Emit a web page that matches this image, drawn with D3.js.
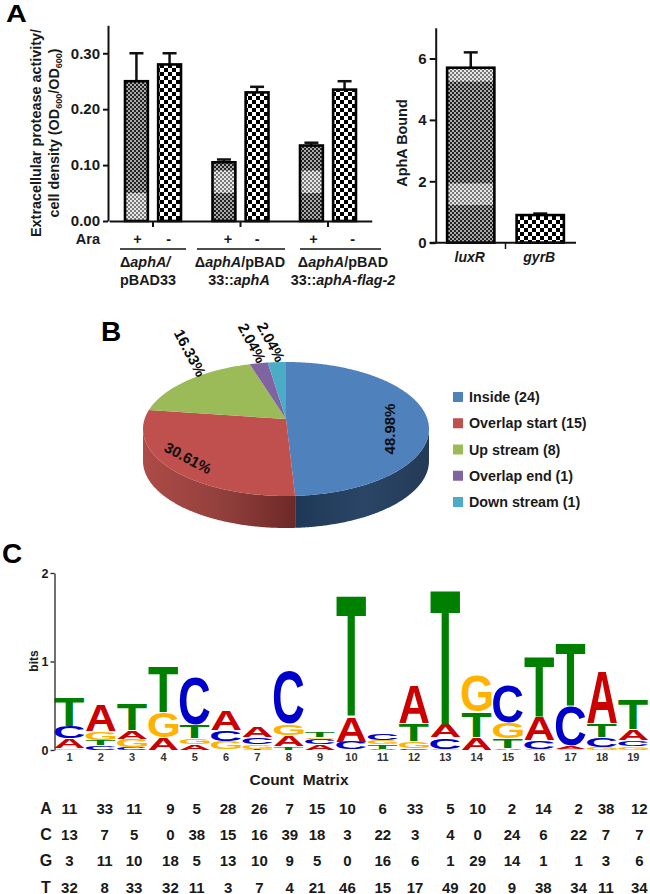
<!DOCTYPE html>
<html><head><meta charset="utf-8">
<script src="https://cdn.jsdelivr.net/npm/d3@7"></script>
<style>
html,body{margin:0;padding:0;background:#fff}
svg{display:block}
text{font-family:"Liberation Sans",Arial,sans-serif;font-weight:bold;fill:#1a1a1a}
</style></head><body>
<svg id="c" width="650" height="894"></svg>
<script>
// ---------- Data ----------
const groupNames = ["g1","g2","g3"];
const araStates = ["+","-"];
const proteaseMeans = [[0.25,0.28],[0.105,0.23],[0.135,0.235]];
const proteaseTops = [[0.30,0.30],[0.11,0.24],[0.14,0.25]];
const proteaseLightBands = [[[0,0.05],null],[[0.05,0.09],null],[[0.05,0.09],null]];
const proteaseTicks = [0,0.1,0.2,0.3];
const boundNames = ["luxR","gyrB"];
const boundMeans = [5.7,0.9];
const boundTops = [6.2,0.95];
const boundLightBands = [[[1.23,1.93],[5.25,5.7]],[]];
const boundTicks = [0,2,4,6];
const pieNames = ["Inside (24)","Overlap start (15)","Up stream (8)","Overlap end (1)","Down stream (1)"];
const pieValues = [24,15,8,1,1];
const pieLabels = ["48.98%","30.61%","16.33%","2.04%","2.04%"];
const pieColors = ["#4f81bd","#c0504d","#9bbb59","#8064a2","#4bacc6"];
const logoPositions = d3.range(1,20);
const logoColumns = [
 [["G",.02],["A",.11],["C",.14],["T",.33]],
 [["C",.05],["T",.06],["G",.1],["A",.3]],
 [["C",.03],["G",.09],["A",.1],["T",.3]],
 [["A",.14],["G",.29],["T",.52]],
 [["A",.06],["G",.07],["T",.15],["C",.55]],
 [["G",.1],["C",.12],["A",.23]],
 [["T",.01],["G",.05],["C",.08],["A",.12]],
 [["T",.04],["A",.12],["G",.13],["C",.61]],
 [["A",.06],["C",.06],["G",.02],["T",.07]],
 [["C",.09],["A",.29],["T",1.38]],
 [["A",.01],["T",.05],["G",.05],["C",.08]],
 [["C",.02],["G",.08],["T",.2],["A",.43]],
 [["G",.01],["C",.13],["A",.15],["T",1.53]],
 [["A",.14],["T",.29],["G",.41]],
 [["A",.02],["T",.11],["G",.18],["C",.43]],
 [["G",.01],["C",.1],["A",.27],["T",.69]],
 [["G",.01],["A",.03],["C",.46],["T",.71]],
 [["G",.03],["C",.11],["T",.16],["A",.6]],
 [["G",.04],["C",.07],["A",.12],["T",.34]]
];
const matrixRows = ["A","C","G","T"];
const matrixA = [11,33,11,9,5,28,26,7,15,10,6,33,5,10,2,14,2,38,12];
const matrixC = [13,7,5,0,38,15,16,39,18,3,22,3,4,0,24,6,22,7,7];
const matrixG = [3,11,10,18,5,13,10,9,5,0,16,6,1,29,14,1,1,3,6];
const matrixT = [32,8,33,32,11,3,7,4,21,46,15,17,49,20,9,38,34,11,34];

// ---------- Setup ----------
const svg = d3.select("#c");
const defs = svg.append("defs");
function checker(id,cell,dark,light){
  const p=defs.append("pattern").attr("id",id).attr("patternUnits","userSpaceOnUse")
    .attr("width",cell*2).attr("height",cell*2);
  p.append("rect").attr("width",cell*2).attr("height",cell*2).attr("fill",light);
  p.append("rect").attr("width",cell).attr("height",cell).attr("fill",dark);
  p.append("rect").attr("x",cell).attr("y",cell).attr("width",cell).attr("height",cell).attr("fill",dark);
}
checker("fine",2,"#222","#aaaaaa");
checker("fineLight",2,"#777","#e8e8e8");
checker("coarse",4,"#000","#fff");

function styleAxis(g,w){
  g.selectAll("path,line").attr("stroke","#111").attr("stroke-width",w);
  g.selectAll("text").style("font-size","14px");
}
function panelLetter(t,x,y,s,sx){
  svg.append("text").attr("transform",`translate(${x},${y}) scale(${sx},1)`).text(t).style("font-size",s+"px").style("fill","#000");
}
panelLetter("A",6,22,24,1.2);
panelLetter("B",101,341,28,1);
panelLetter("C",2,563,28,1);

// ---------- Panel A, left ----------
const yA = d3.scaleLinear().domain([0,0.35]).range([221,25.3]);
const x0 = d3.scaleBand().domain(groupNames).range([109.25,371.75]);
const xS = d3.scaleBand().domain(araStates).range([-28,28]).paddingInner(0.31);
const gA = svg.append("g");

function drawBar(g,x,w,yScale,mean,top,bands,pat){
  const yb=yScale(0), ym=yScale(mean), yt=yScale(top), cx=x+w/2;
  g.append("line").attr("x1",cx).attr("x2",cx).attr("y1",yt).attr("y2",ym).attr("stroke","#111").attr("stroke-width",2.5);
  g.append("line").attr("x1",cx-7).attr("x2",cx+7).attr("y1",yt).attr("y2",yt).attr("stroke","#111").attr("stroke-width",2.5);
  g.append("rect").attr("x",x).attr("y",ym).attr("width",w).attr("height",yb-ym).attr("fill",`url(#${pat})`);
  (bands||[]).forEach(b=>{
    g.append("rect").attr("x",x).attr("y",yScale(b[1])).attr("width",w)
      .attr("height",yScale(b[0])-yScale(b[1])).attr("fill","url(#fineLight)");
  });
  g.append("rect").attr("x",x).attr("y",ym).attr("width",w).attr("height",yb-ym)
    .attr("fill","none").attr("stroke","#000").attr("stroke-width",2.6);
}
groupNames.forEach((gn,i)=>araStates.forEach((s,j)=>{
  const band=proteaseLightBands[i][j];
  drawBar(gA,x0(gn)+x0.bandwidth()/2+xS(s),xS.bandwidth(),yA,proteaseMeans[i][j],proteaseTops[i][j],band?[band]:[],j==0?"fine":"coarse");
}));
const ayA=gA.append("g").attr("transform","translate(108,0)")
  .call(d3.axisLeft(yA).tickValues(proteaseTicks).tickSize(5).tickSizeOuter(0).tickFormat(d3.format(".2f")).tickPadding(3));
styleAxis(ayA,2);
ayA.selectAll("text").style("font-size","15px");
const axA=gA.append("g").attr("transform","translate(0,221)")
  .call(d3.axisBottom(x0).tickSize(6).tickSizeOuter(0).tickFormat(""));
styleAxis(axA,2);

gA.append("text").attr("x",100).attr("y",244).attr("text-anchor","end").text("Ara").style("font-size","14.5px");
const araLabelShift=[[1,-1],[4,0],[2,8]];
groupNames.forEach((gn,i)=>araStates.forEach((s,j)=>{
  gA.append("text").attr("x",x0(gn)+x0.bandwidth()/2+xS(s)+xS.bandwidth()/2+araLabelShift[i][j]).attr("y",244)
    .attr("text-anchor","middle").text(s).style("font-size","14.5px");
}));
[[120,186],[197,285],[300,381]].forEach(d=>{
  gA.append("line").attr("x1",d[0]).attr("x2",d[1]).attr("y1",249).attr("y2",249).attr("stroke","#111").attr("stroke-width",1.5);
});
function mixed(x,y,anchor,parts){
  const t=gA.append("text").attr("x",x).attr("y",y).attr("text-anchor",anchor).style("font-size","14.4px");
  parts.forEach(p=>{t.append("tspan").text(p[0]).style("font-style",p[1]?"italic":"normal");});
}
mixed(120,267,"start",[["Δ",0],["aphA",1],["/",1]]);
mixed(120,285,"start",[["pBAD33",0]]);
mixed(240,267,"middle",[["Δ",0],["aphA",1],["/pBAD",0]]);
mixed(239,285,"middle",[["33::",0],["aphA",1]]);
mixed(343,267,"middle",[["Δ",0],["aphA",1],["/pBAD",0]]);
mixed(343,285,"middle",[["33::",0],["aphA-flag-2",1]]);

const t1=gA.append("text").attr("transform","translate(41,133) rotate(-90)").attr("text-anchor","middle").style("font-size","14.4px");
t1.text("Extracellular protease activity/");
const t2=gA.append("text").attr("transform","translate(59,133) rotate(-90)").attr("text-anchor","middle").style("font-size","14.4px");
t2.append("tspan").text("cell density (OD");
t2.append("tspan").text("600").attr("dy",3).style("font-size","9px");
t2.append("tspan").text("/OD").attr("dy",-3);
t2.append("tspan").text("600").attr("dy",3).style("font-size","9px");
t2.append("tspan").text(")").attr("dy",-3);

// ---------- Panel A, right ----------
const yB = d3.scaleLinear().domain([0,7]).range([242.7,27.8]);
const xB = d3.scaleBand().domain(boundNames).range([436,575]).paddingInner(.32).paddingOuter(.16);
const gB = svg.append("g");
boundNames.forEach((n,i)=>{
  drawBar(gB,xB(n),xB.bandwidth(),yB,boundMeans[i],boundTops[i],boundLightBands[i],i==0?"fine":"coarse");
  gB.append("text").attr("x",xB(n)+xB.bandwidth()/2-1).attr("y",262).attr("text-anchor","middle")
    .text(n).style("font-size","14px").style("font-style","italic");
});
const ayB=gB.append("g").attr("transform","translate(435.7,0)")
  .call(d3.axisLeft(yB).tickValues(boundTicks).tickFormat(d3.format("d")).tickSize(6).tickSizeOuter(0).tickPadding(3));
styleAxis(ayB,2);
ayB.selectAll("text").style("font-size","15px");
gB.append("line").attr("x1",429.7).attr("x2",576).attr("y1",242.7).attr("y2",242.7).attr("stroke","#111").attr("stroke-width",2);
const midB=xB(boundNames[1])-xB.step()*xB.paddingInner()/2;
gB.append("line").attr("x1",midB).attr("x2",midB).attr("y1",242.7).attr("y2",249).attr("stroke","#111").attr("stroke-width",1.5);
gB.append("text").attr("transform","translate(407,143) rotate(-90)").attr("text-anchor","middle")
  .text("AphA Bound").style("font-size","14.4px");

// ---------- Panel B ----------
const P={cx:286,cy:429,rx:143,ry:67,apexY:419,depth:32};
const pie=d3.pie().sort(null).value(d=>d)(pieValues);
const rim=a=>[P.cx+P.rx*Math.sin(a),P.cy-P.ry*Math.cos(a)];
const line=d3.line();
const gP=svg.append("g");
function gradient(id,x1,x2,stops){
  const g=defs.append("linearGradient").attr("id",id).attr("gradientUnits","userSpaceOnUse")
    .attr("x1",x1).attr("x2",x2).attr("y1",0).attr("y2",0);
  stops.forEach(s=>g.append("stop").attr("offset",s[0]).attr("stop-color",s[1]));
}
gradient("sideBlue",297,429,[[0,"#1f3857"],[.5,"#2a4566"],[1,"#243b57"]]);
gradient("sideRed",143,297,[[0,"#ad4b47"],[.5,"#93403d"],[1,"#6c2926"]]);
function sideArc(a0,a1,fill){
  const arc=d3.range(a0,a1,0.01).concat([a1]).map(rim);
  const pts=arc.concat(arc.slice().reverse().map(p=>[p[0],p[1]+P.depth]));
  gP.append("path").attr("d",line(pts)+"Z").attr("fill",fill);
}
sideArc(Math.PI/2,pie[0].endAngle,"url(#sideBlue)");
sideArc(pie[0].endAngle,Math.PI*1.5,"url(#sideRed)");
pie.forEach((d,i)=>{
  const arc=d3.range(d.startAngle,d.endAngle,0.01).concat([d.endAngle]).map(rim);
  gP.append("path").attr("d",line([[P.cx,P.apexY]].concat(arc))+"Z").attr("fill",pieColors[i]);
});
const pieLabelPos=[[390,429,-90],[188,458,28],[190,353,62],[252,343,62],[271,342,62]];
pieLabels.forEach((t,i)=>{
  const p=pieLabelPos[i];
  gP.append("text").attr("transform",`translate(${p[0]},${p[1]}) rotate(${p[2]})`)
    .attr("text-anchor","middle").attr("dy","0.35em").text(t).style("font-size","15px").style("fill","#0d0d0d");
});
const legY=d3.scalePoint().domain(pieNames).range([397,502]);
pieNames.forEach((n,i)=>{
  gP.append("rect").attr("x",453).attr("y",legY(n)-5).attr("width",10).attr("height",10).attr("fill",pieColors[i]);
  gP.append("text").attr("x",469).attr("y",legY(n)+5).text(n).style("font-size","14.3px");
});

// ---------- Panel C ----------
const xL=d3.scaleBand().domain(logoPositions).range([53.8,649]);
const yL=d3.scaleLinear().domain([0,2]).range([750,573]);
const logoColor={A:"#cc0000",C:"#0000cc",G:"#ffb300",T:"#008000"};
const gL=svg.append("g");
const mctx=document.createElement("canvas").getContext("2d");
mctx.font="bold 100px 'Liberation Sans'";
const metrics={};
"ACGT".split("").forEach(l=>{metrics[l]=mctx.measureText(l);});
const letterW=xL.bandwidth()-1.4;
logoColumns.forEach((col,i)=>{
  let cum=0;
  const left=xL(logoPositions[i])+0.7;
  col.forEach(([l,h])=>{
    const y0=yL(cum), y1=yL(cum+h);
    cum+=h;
    const m=metrics[l];
    const gw=m.actualBoundingBoxLeft+m.actualBoundingBoxRight;
    const gh=m.actualBoundingBoxAscent+m.actualBoundingBoxDescent;
    const tgtH=Math.max(y0-y1-0.8,0.5);
    const sx=letterW/gw, sy=tgtH/gh;
    gL.append("text").attr("transform",`translate(${left+m.actualBoundingBoxLeft*sx},${y0-0.4-m.actualBoundingBoxDescent*sy}) scale(${sx},${sy})`)
      .text(l).style("font-size","100px").style("fill",logoColor[l]);
  });
});
const ayL=gL.append("g").attr("transform","translate(54.5,0)")
  .call(d3.axisLeft(yL).tickValues([0,1,2]).tickFormat(d3.format("d")).tickSize(4).tickSizeOuter(0).tickPadding(2));
ayL.selectAll("path,line").attr("stroke","#333").attr("stroke-width",1.4);
ayL.selectAll("text").style("font-size","12.5px");
gL.append("text").attr("transform","translate(38,661) rotate(-90)").attr("text-anchor","middle").text("bits").style("font-size","12px");
const axL=gL.append("g").attr("transform","translate(0,750)").call(d3.axisBottom(xL).tickSize(0).tickPadding(3));
axL.select(".domain").remove();
axL.selectAll("text").style("font-size","11px").style("fill","#333");

// ---------- Count matrix ----------
const gM=svg.append("g");
gM.append("text").attr("x",299).attr("y",785).attr("text-anchor","middle").attr("xml:space","preserve").text("Count  Matrix").style("font-size","15.5px");
const yM=d3.scalePoint().domain(matrixRows).range([814,892.5]);
const matrixNudge=[0,4,2,7,2,2,2,1,-3,-4,0,1,5,1,4,4,8,4,6];
[matrixA,matrixC,matrixG,matrixT].forEach((row,r)=>{
  const name=matrixRows[r];
  gM.append("text").attr("x",46).attr("y",yM(name)).attr("text-anchor","middle").text(name).style("font-size","16px");
  row.forEach((v,i)=>{
    gM.append("text").attr("x",xL(logoPositions[i])+xL.bandwidth()/2+matrixNudge[i]).attr("y",yM(name))
      .attr("text-anchor","middle").text(v).style("font-size","15px");
  });
});
</script>
</body></html>
